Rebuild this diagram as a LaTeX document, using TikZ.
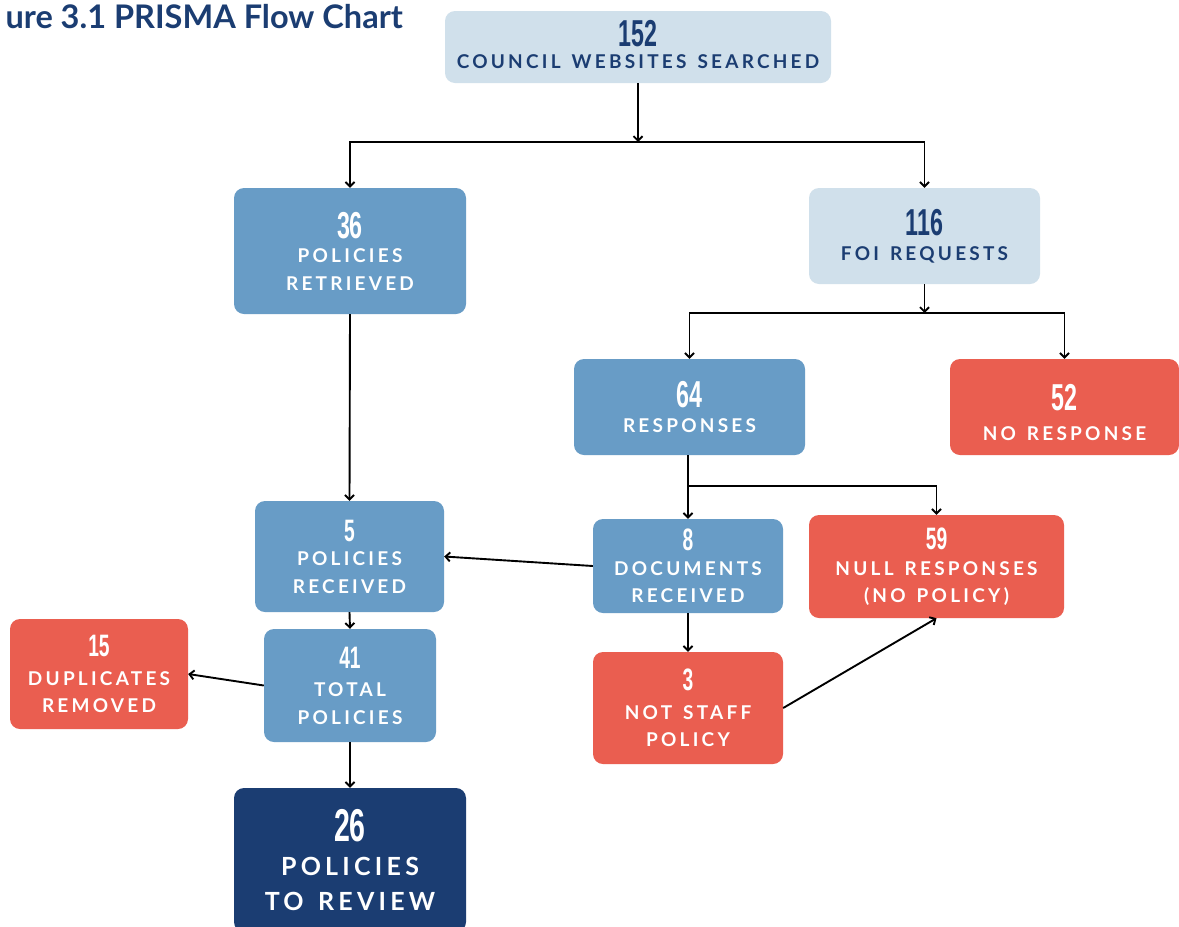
\documentclass[tikz,border=0pt]{standalone}
\usepackage{fontspec}
\usetikzlibrary{arrows.meta}
\setmainfont{Lato}
\newfontfamily\lblfont[LetterSpace=17, WordSpace=1.4]{Lato}
\newfontfamily\numfont[FakeStretch=0.62]{Liberation Sans}
\definecolor{navy}{HTML}{1B3D72}
\definecolor{pale}{HTML}{D0E0EB}
\definecolor{midblue}{HTML}{689CC6}
\definecolor{coral}{HTML}{EA5E50}
% condensed figures for the counts
\newcommand\bignum[1]{{\numfont\bfseries\fontsize{37.5}{37.5}\selectfont #1}}
\newcommand\smallnum[1]{{\numfont\bfseries\fontsize{31}{31}\selectfont #1}}
\newcommand\hugenum[1]{{\numfont\bfseries\fontsize{46}{46}\selectfont #1}}
\tikzset{
  card/.style={rectangle, rounded corners=10pt, draw=none, align=center, inner sep=0pt,
    font=\lblfont\bfseries\fontsize{19}{27.5}\selectfont},
  palecard/.style={card, fill=pale, text=navy},
  bluecard/.style={card, fill=midblue, text=white},
  redcard/.style={card, fill=coral, text=white},
  navycard/.style={card, fill=navy, text=white,
    font=\lblfont\bfseries\fontsize{25}{35}\selectfont},
  link/.style={line width=1.9pt, draw=black, -{Straight Barb[length=4.5pt,width=9pt]}},
}
\begin{document}
\begin{tikzpicture}[x=1pt, y=-1pt]
\clip (0,0) rectangle (1179,927);
\fill[white] (0,0) rectangle (1179,927);

\node[anchor=base west, font=\bfseries\fontsize{32.5}{32.5}\selectfont, text=navy] (title) at (2,28.5) {ure 3.1 PRISMA Flow Chart};

% boxes
\node[palecard, minimum width=386pt, minimum height=72pt, text depth=5pt] (top) at (638,47)
  {\bignum{152}\\[-5pt]COUNCIL WEBSITES SEARCHED};
\node[bluecard, minimum width=232pt, minimum height=126pt] (b36) at (350,251)
  {\bignum{36}\\[-3pt]POLICIES\\RETRIEVED};
\node[palecard, minimum width=231pt, minimum height=96pt] (b116) at (924.5,236)
  {\bignum{116}\\[-3pt]FOI REQUESTS};
\node[bluecard, minimum width=231pt, minimum height=96pt] (b64) at (689.5,407)
  {\bignum{64}\\[-3pt]RESPONSES};
\node[redcard, minimum width=229pt, minimum height=96pt, text height=68pt] (b52) at (1064.5,407)
  {\bignum{52}\\[3pt]NO RESPONSE};
\node[bluecard, minimum width=189pt, minimum height=111pt] (b5) at (349.5,556.5)
  {\smallnum{5}\\[-3pt]POLICIES\\RECEIVED};
\node[bluecard, minimum width=190pt, minimum height=94pt] (b8) at (688,566)
  {\smallnum{8}\\[-3pt]DOCUMENTS\\RECEIVED};
\node[redcard, minimum width=255pt, minimum height=103pt] (b59) at (936.5,566.5)
  {\smallnum{59}\\[-1.5pt]NULL RESPONSES\\(NO POLICY)};
\node[redcard, minimum width=190pt, minimum height=112pt] (b3) at (688,708)
  {\smallnum{3}\\[1pt]NOT STAFF\\POLICY};
\node[redcard, minimum width=178pt, minimum height=110pt] (b15) at (99,674)
  {\smallnum{15}\\[1.5pt]DUPLICATES\\REMOVED};
\node[bluecard, minimum width=172pt, minimum height=113pt] (b41) at (350,685.5)
  {\smallnum{41}\\[1pt]TOTAL\\POLICIES};
\node[navycard, minimum width=232pt, minimum height=144pt] (b26) at (350,860)
  {\hugenum{26}\\[-1pt]POLICIES\\TO REVIEW};

% junctions of the split connectors
\coordinate (j1) at (638,142);
\coordinate (j2) at (924.5,313);
\coordinate (j3) at (688,486);

\draw[link] (top.south) -- (j1);
\draw[link] (j1) -| (b36.north);
\draw[link] (j1) -| (b116.north);
\draw[link] (b116.south) -- (j2);
\draw[link] (j2) -| (b64.north);
\draw[link] (j2) -| (b52.north);
\draw[link] (b36.south) -- (b5.north);
\draw[link] (b64.south -| b8.north) -- (b8.north);
\draw[link] (j3) -| (b59.north);
\draw[link] (b8.west) -- (b5.east);
\draw[link] (b8.south) -- (b3.north);
\draw[link] (b3.east) -- (b59.south);
\draw[link] (b5.south) -- (b41.north);
\draw[link] (b41.west) -- (b15.east);
\draw[link] (b41.south) -- (b26.north);
\end{tikzpicture}
\end{document}
